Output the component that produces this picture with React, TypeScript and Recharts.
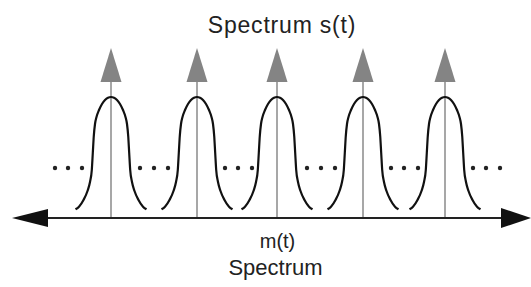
import React from 'react';
import {
    ComposedChart,
    Line,
    Scatter,
    XAxis,
    YAxis,
    ReferenceLine,
} from 'recharts';

// centres of the five carrier spikes (x, px-like units)
const spikeCenters = [111, 197, 277, 363, 445];
// height of the gray spike tip and of its arrow base
const spikeTop = 170;
const spikeBase = 136;

// one bump profile: [offset from centre, height]
const bumpOffsets = [-35.5, -32, -27.5, -23.5, -21, -19.2, -18.2, -17.2, -16, -14.5, -12, -9, -6, -3, 0, 3, 6, 9, 12, 14.5, 16, 17.2, 18.2, 19.2, 21, 23.5, 27.5, 32, 35.5];
const bumpHeights = [8.7, 11.3, 18, 27, 36, 48, 65, 82, 94, 101, 108, 114, 118, 120.3, 121, 120.3, 118, 114, 108, 101, 94, 82, 65, 48, 36, 27, 18, 11.3, 8.7];

// "..." dots between the bumps
const dotXs = [55, 68, 82, 140, 154, 168, 225, 238, 252, 307, 321, 335, 391, 404, 418, 473, 486, 500];
const dotHeight = 50;

// horizontal axis ends (arrow tips)
const axisLeft = 12;
const axisRight = 531;

const bumps = spikeCenters.map((c) =>
    bumpOffsets.map((o, i) => ({ x: c + o, y: bumpHeights[i] }))
);
const spikeTips = spikeCenters.map((c) => ({ x: c, y: spikeTop }));
const dots = dotXs.map((x) => ({ x, y: dotHeight }));

const SpikeHead = (p: any) => (
    <polygon
        points={`${p.cx},${p.cy} ${p.cx - 10.5},${p.cy + 34} ${p.cx + 10.5},${p.cy + 34}`}
        fill="#848484"
    />
);

const LeftHead = (p: any) => (
    <polygon
        points={`${p.cx},${p.cy} ${p.cx + 36},${p.cy - 9} ${p.cx + 36},${p.cy + 9}`}
        fill="#111"
    />
);

const RightHead = (p: any) => (
    <polygon
        points={`${p.cx},${p.cy} ${p.cx - 30},${p.cy - 10} ${p.cx - 30},${p.cy + 10}`}
        fill="#111"
    />
);

const Dot = (p: any) => <circle cx={p.cx} cy={p.cy} r={2.2} fill="#222" />;

export default function App() {
    return (
        <div style={{ position: 'fixed', left: 0, top: 0, width: 531, height: 287, background: '#fff' }}>
            <ComposedChart width={531} height={287} margin={{ top: 0, right: 0, bottom: 0, left: 0 }}>
                <XAxis type="number" dataKey="x" domain={[0, 531]} hide allowDataOverflow />
                <YAxis type="number" dataKey="y" domain={[-69, 218]} hide allowDataOverflow />

                {spikeCenters.map((c) => (
                    <ReferenceLine
                        key={'v' + c}
                        segment={[{ x: c, y: 0 }, { x: c, y: spikeBase }]}
                        stroke="#8a8a8a"
                        strokeWidth={1.5}
                    />
                ))}

                <ReferenceLine
                    segment={[{ x: axisLeft + 20, y: 0 }, { x: axisRight - 20, y: 0 }]}
                    stroke="#222"
                    strokeWidth={2}
                />

                {bumps.map((d, i) => (
                    <Line
                        key={'b' + i}
                        data={d}
                        dataKey="y"
                        type="monotone"
                        stroke="#111"
                        strokeWidth={2.2}
                        dot={false}
                        isAnimationActive={false}
                    />
                ))}

                <Scatter data={spikeTips} shape={SpikeHead} isAnimationActive={false} />
                <Scatter data={dots} shape={Dot} isAnimationActive={false} />
                <Scatter data={[{ x: axisLeft, y: 0 }]} shape={LeftHead} isAnimationActive={false} />
                <Scatter data={[{ x: axisRight, y: 0 }]} shape={RightHead} isAnimationActive={false} />
            </ComposedChart>

            <svg
                width={531}
                height={287}
                style={{ position: 'absolute', left: 0, top: 0, pointerEvents: 'none' }}
                fontFamily="'Liberation Sans', Arial, sans-serif"
                fill="#222"
            >
                <text x={282} y={33} fontSize={23} letterSpacing={0.8} textAnchor="middle">
                    Spectrum s(t)
                </text>
                <text x={277.5} y={248} fontSize={20} textAnchor="middle">
                    m(t)
                </text>
                <text x={275.5} y={275} fontSize={22} textAnchor="middle">
                    Spectrum
                </text>
            </svg>
        </div>
    );
}
